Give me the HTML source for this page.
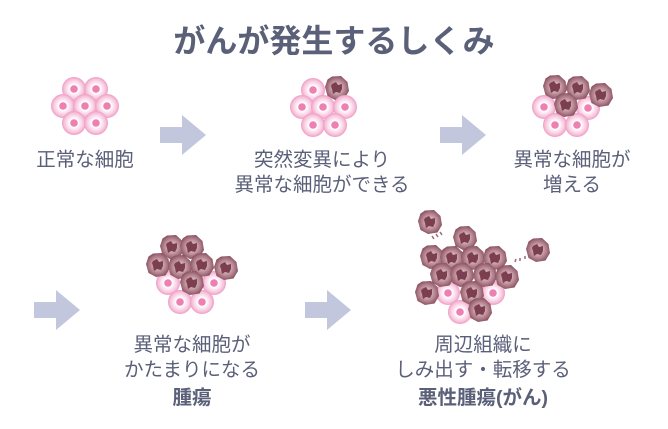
<!DOCTYPE html><html><head><meta charset="utf-8"><style>
body{margin:0;background:#fff;}
svg text{font-family:"Liberation Sans","Noto Sans CJK JP",sans-serif;fill:#5b6079;}
</style></head><body>
<svg width="668" height="424" viewBox="0 0 668 424" xmlns="http://www.w3.org/2000/svg">
<defs>
<radialGradient id="pg"><stop offset="0.35" stop-color="#fff"/><stop offset="0.8" stop-color="#f7c3dc"/><stop offset="1" stop-color="#ee9cc4"/></radialGradient>
<radialGradient id="cg"><stop offset="0.3" stop-color="#d9b9c2"/><stop offset="0.8" stop-color="#a8727f"/><stop offset="1" stop-color="#8a5563"/></radialGradient>
<g id="p"><circle r="12" fill="url(#pg)"/><circle r="3.8" fill="#ee7fb2"/></g>
<g id="c"><path d="M-5,-11.5 L4,-12 L10.5,-6 L12,3 L7.5,10.5 L-2,12 L-9.5,8 L-12,-1 L-9.5,-8.5Z" fill="url(#cg)"/><path d="M-5,-4 L-1,-6 L1,-3 L5,-4 L5,1 L3,5 L-1,4 L-4,6 L-5,1 L-6,-2Z" fill="#7b3f50"/></g>
<g id="a"><path d="M0,12 L22,12 L22,0 L46,20 L22,40 L22,28 L0,28Z" fill="#c3c7de"/></g>
</defs>
<text x="334" y="52" text-anchor="middle" font-size="32" font-weight="bold" style="fill:#5b6079">がんが発生するしくみ</text>
<use href="#p" x="74" y="89"/><use href="#p" x="96" y="89"/><use href="#p" x="63" y="106"/><use href="#p" x="85" y="106"/><use href="#p" x="107" y="106"/><use href="#p" x="74" y="123"/><use href="#p" x="96" y="123"/>
<use href="#p" x="313" y="90"/><use href="#c" x="337" y="88"/><use href="#p" x="302" y="107"/><use href="#p" x="323" y="107"/><use href="#p" x="345" y="107"/><use href="#p" x="313" y="125"/><use href="#p" x="335" y="125"/>
<use href="#p" x="544" y="107"/><use href="#p" x="588" y="108"/><use href="#p" x="555" y="125"/><use href="#p" x="577" y="125"/>
<use href="#c" x="555" y="87"/><use href="#c" x="578" y="88"/><use href="#c" x="601" y="95"/><use href="#c" x="566" y="105"/>
<use href="#p" x="168" y="283"/><use href="#p" x="214" y="283"/><use href="#p" x="180" y="302"/><use href="#p" x="202" y="302"/>
<use href="#c" x="172" y="247"/><use href="#c" x="192" y="247"/><use href="#c" x="158" y="265"/><use href="#c" x="180" y="267"/><use href="#c" x="202" y="265"/><use href="#c" x="226" y="268"/><use href="#c" x="192" y="283"/>
<use href="#p" x="448" y="293"/><use href="#p" x="493" y="293"/><use href="#p" x="460" y="312"/>
<use href="#c" x="430" y="222"/><use href="#c" x="465" y="238"/><use href="#c" x="432" y="257"/><use href="#c" x="452" y="258"/><use href="#c" x="473" y="258"/><use href="#c" x="495" y="258"/>
<use href="#c" x="442" y="275"/><use href="#c" x="462" y="275"/><use href="#c" x="485" y="275"/><use href="#c" x="507" y="277"/>
<use href="#c" x="427" y="293"/><use href="#c" x="472" y="293"/><use href="#c" x="480" y="310"/><use href="#c" x="538" y="250"/>
<g stroke="#9a6a77" stroke-width="1.5" fill="none"><path d="M432,236 l2,3 M436,234 l2,3 M440,232 l2,3"/><path d="M515,262 l1,-3 M520,261 l0,-3 M525,259 l0,-3"/></g>
<use href="#a" x="160" y="115"/><use href="#a" x="440" y="115"/><use href="#a" x="34" y="290"/><use href="#a" x="305" y="290"/>
<g font-size="19.5" text-anchor="middle">
<text x="85" y="166">正常な細胞</text>
<text x="322" y="166">突然変異により</text><text x="322" y="191">異常な細胞ができる</text>
<text x="572" y="166">異常な細胞が</text><text x="572" y="191">増える</text>
<text x="192" y="351">異常な細胞が</text><text x="192" y="376">かたまりになる</text>
<text x="192" y="404" font-weight="bold">腫瘍</text>
<text x="483" y="351">周辺組織に</text><text x="483" y="376">しみ出す・転移する</text>
<text x="483" y="404" font-weight="bold">悪性腫瘍(がん)</text>
</g>
</svg>
</body></html>
